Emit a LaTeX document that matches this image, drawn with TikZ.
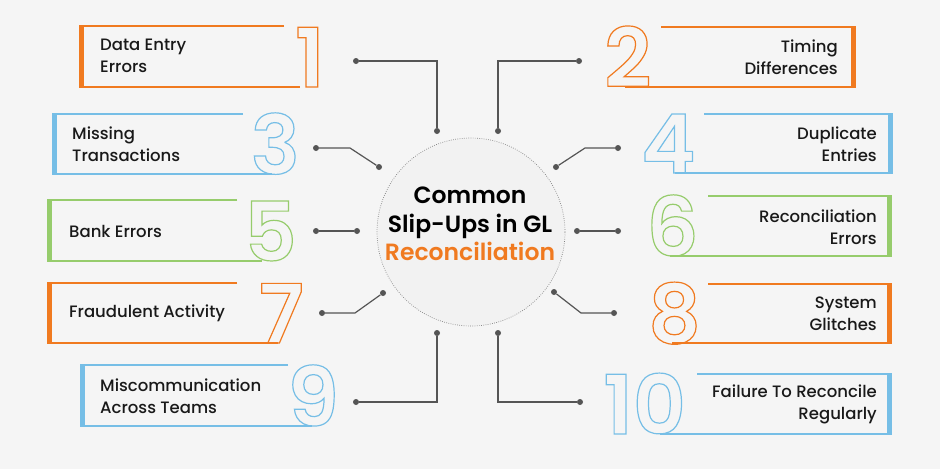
\documentclass[tikz,border=0pt]{standalone}
\usepackage{fontspec}
\setmainfont{Poppins}
\newfontfamily\medfont{Poppins Medium}
\newfontfamily\semifont{Poppins SemiBold}
\usepackage{tikz}
\usetikzlibrary{positioning}

\definecolor{slipor}{RGB}{240,122,32}
\definecolor{slipbl}{RGB}{118,190,230}
\definecolor{slipgr}{RGB}{150,204,108}
\definecolor{wiregray}{RGB}{85,85,85}
\definecolor{paper}{RGB}{245,245,245}

% hollow digits: stroke the glyph outline only
\newcommand{\hollow}[1]{\special{pdf:literal direct 1 Tr 1.2 w}#1\special{pdf:literal direct 0 Tr}}

\tikzset{
  slipbox/.style={line width=1.3pt},
  slipbar/.style={line width=4pt},
  pin/.style={circle,fill=wiregray,inner sep=0pt,minimum size=6pt},
  wire/.style={draw=wiregray,line width=1.2pt},
  itemtext/.style={font=\medfont\fontsize{16.5}{22}\selectfont,text=black!90,inner sep=0pt},
  bignum/.style={font=\semifont\fontsize{82}{82}\selectfont,inner sep=0pt},
}

\begin{document}
\begin{tikzpicture}[x=1pt,y=-1pt]
  \fill[paper] (0,0) rectangle (940,469);

  % centre
  \node [circle,draw=gray,line width=0.7pt,dash pattern=on 0.7pt off 1.5pt,fill=black!5,minimum size=188pt] (hub) at (471,232) {};
  \node [align=center,font=\semifont\fontsize{23.5}{28.5}\selectfont,inner sep=0pt] (title) at (470,224)
    {Common\\Slip-Ups in GL\\\textcolor{slipor}{Reconciliation}};

  % 1
  \draw [slipbox,slipor] (284,26) -- (80,26) -- (80,87) -- (300,87);
  \draw [slipbar,slipor] (82,26) -- (82,87);
  \node [bignum,text=slipor,anchor=base east] (n1) at (325,87) {\hollow{1}};
  \node [itemtext,anchor=west,align=left] (t1) at (100,56) {Data Entry\\Errors};
  % 2
  \draw [slipbox,slipor] (661,27) -- (855,27) -- (855,87) -- (625,87);
  \draw [slipbar,slipor] (853,27) -- (853,87);
  \node [bignum,text=slipor,anchor=base west] (n2) at (604,87) {\hollow{2}};
  \node [itemtext,anchor=east,align=right] (t2) at (838,57) {Timing\\Differences};
  % 3
  \draw [slipbox,slipbl] (243,114) -- (53,114) -- (53,174) -- (272,174);
  \draw [slipbar,slipbl] (55,114) -- (55,174);
  \node [bignum,text=slipbl,anchor=base east] (n3) at (300,174) {\hollow{3}};
  \node [itemtext,anchor=west,align=left] (t3) at (72,144) {Missing\\Transactions};
  % 4
  \draw [slipbox,slipbl] (704,114) -- (892,114) -- (892,173) -- (675,173);
  \draw [slipbar,slipbl] (890,114) -- (890,173);
  \node [bignum,text=slipbl,anchor=base west] (n4) at (641,173) {\hollow{4}};
  \node [itemtext,anchor=east,align=right] (t4) at (877,144) {Duplicate\\Entries};
  % 5
  \draw [slipbox,slipgr] (237,200) -- (48,200) -- (48,261) -- (262,261);
  \draw [slipbar,slipgr] (50,200) -- (50,261);
  \node [bignum,text=slipgr,anchor=base east] (n5) at (297,261) {\hollow{5}};
  \node [itemtext,anchor=west,align=left] (t5) at (69,231) {Bank Errors};
  % 6
  \draw [slipbox,slipgr] (708,196) -- (891,196) -- (891,256) -- (670,256);
  \draw [slipbar,slipgr] (889,196) -- (889,256);
  \node [bignum,text=slipgr,anchor=base west] (n6) at (646,256) {\hollow{6}};
  \node [itemtext,anchor=east,align=right] (t6) at (877,227) {Reconciliation\\Errors};
  % 7
  \draw [slipbox,slipor] (237,283) -- (48,283) -- (48,343) -- (278,343);
  \draw [slipbar,slipor] (50,283) -- (50,343);
  \node [bignum,text=slipor,anchor=base east] (n7) at (304,343) {\hollow{7}};
  \node [itemtext,anchor=west,align=left] (t7) at (69,313) {Fraudulent Activity};
  % 8
  \draw [slipbox,slipor] (708,284) -- (891,284) -- (891,343) -- (672,343);
  \draw [slipbar,slipor] (889,284) -- (889,343);
  \node [bignum,text=slipor,anchor=base west] (n8) at (648,343) {\hollow{8}};
  \node [itemtext,anchor=east,align=right] (t8) at (877,314) {System\\Glitches};
  % 9
  \draw [slipbox,slipbl] (288,365) -- (81,365) -- (81,426) -- (312,426);
  \draw [slipbar,slipbl] (83,365) -- (83,426);
  \node [bignum,text=slipbl,anchor=base east] (n9) at (339,426) {\hollow{9}};
  \node [itemtext,anchor=west,align=left] (t9) at (100,396) {Miscommunication\\Across Teams};
  % 10
  \draw [slipbox,slipbl] (697,374) -- (891,374) -- (891,434) -- (660,434);
  \draw [slipbar,slipbl] (889,374) -- (889,434);
  \node [bignum,text=slipbl,anchor=base west] (n10) at (603,434) {\hollow{10}};
  \node [itemtext,anchor=east,align=right] (t10) at (877,404) {Failure To Reconcile\\Regularly};

  % pins
  \node [pin] (p1a) at (356,61) {};   \node [pin] (p1b) at (437,131) {};
  \node [pin] (p2a) at (579,61) {};   \node [pin] (p2b) at (498,131) {};
  \node [pin] (p3a) at (316,148) {};  \node [pin] (p3b) at (379,167) {};
  \node [pin] (p4a) at (618,148) {};  \node [pin] (p4b) at (556,167) {};
  \node [pin] (p5a) at (316,231) {};  \node [pin] (p5b) at (357,231) {};
  \node [pin] (p6a) at (618,231) {};  \node [pin] (p6b) at (577,231) {};
  \node [pin] (p7a) at (322,313) {};  \node [pin] (p7b) at (383,293) {};
  \node [pin] (p8a) at (614,313) {};  \node [pin] (p8b) at (554,292) {};
  \node [pin] (p9a) at (356,402) {};  \node [pin] (p9b) at (437,333) {};
  \node [pin] (p10a) at (580,402) {}; \node [pin] (p10b) at (498,333) {};

  % wires
  \draw [wire] (p1a) -| (p1b);
  \draw [wire] (p2a) -| (p2b);
  \draw [wire] (p3a) -- ++(34,0) -- (p3b);
  \draw [wire] (p4a) -- ++(-33,0) -- (p4b);
  \draw [wire] (p5a) -- (p5b);
  \draw [wire] (p6a) -- (p6b);
  \draw [wire] (p7a) -- ++(33,0) -- (p7b);
  \draw [wire] (p8a) -- ++(-33,0) -- (p8b);
  \draw [wire] (p9a) -| (p9b);
  \draw [wire] (p10a) -| (p10b);
\end{tikzpicture}
\end{document}
